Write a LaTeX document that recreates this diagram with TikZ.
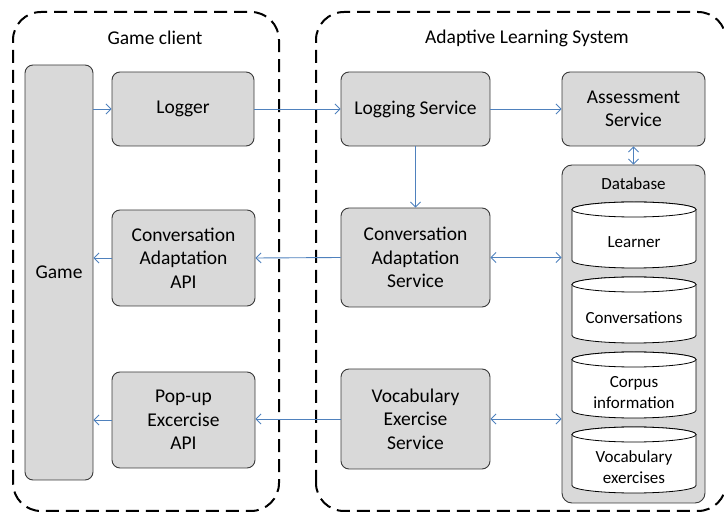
\documentclass[tikz,border=0pt]{standalone}
\usepackage{fontspec}
\setmainfont{Carlito}
\usetikzlibrary{arrows.meta}
\definecolor{boxgray}{HTML}{D9D9D9}
\definecolor{arrowblue}{HTML}{4F81BD}
\definecolor{edgegray}{HTML}{3A3A3A}
\newcommand\dbcyl[3]{%
  \draw[cylline] (572,#1-7.5) -- (572,#1-66+7.5)
     arc[start angle=180,end angle=360,x radius=62pt,y radius=7.5pt]
     -- (696,#1-7.5)
     arc[start angle=0,end angle=180,x radius=62pt,y radius=7.5pt] -- cycle;
  \draw[cylline] (634,#1-7.5) ellipse[x radius=62pt,y radius=7.5pt];
  \node[cyltext] (#2) at (634,#1-40.5) {#3};
}
\tikzset{
  container/.style={draw=black, line width=2pt, dash pattern=on 13pt off 7pt, rounded corners=28pt},
  box/.style={draw=edgegray, fill=boxgray, line width=0.9pt, rounded corners=8pt, align=center,
     inner sep=0pt, font=\fontsize{19.5}{23.5}\selectfont},
  dbbox/.style={draw=edgegray, fill=boxgray, line width=0.9pt, rounded corners=10pt},
  cylline/.style={draw=black, fill=white, line width=0.8pt},
  cyltext/.style={align=center, inner sep=0pt, font=\fontsize{17}{21}\selectfont},
  title/.style={font=\fontsize{19.5}{23.5}\selectfont, inner sep=0pt},
  flow/.style={draw=arrowblue, line width=0.9pt, -{Straight Barb[length=5pt,width=10pt]}},
  flowboth/.style={draw=arrowblue, line width=0.9pt, {Straight Barb[length=5pt,width=10pt]}-{Straight Barb[length=5pt,width=10pt]}}
}
\begin{document}
\begin{tikzpicture}[x=1pt,y=1pt]
\useasboundingbox (0,0) rectangle (724,512);
% containers
\draw[container] (13,1) rectangle (279,500);
\draw[container] (316,1) rectangle (726,500);
\node[title] (gctitle) at (155,474) {Game client};
\node[title] (alstitle) at (527,474) {Adaptive Learning System};
% game client
\node[box, minimum width=68pt, minimum height=415pt] (game) at (59,239.5) {Game};
\node[box, minimum width=142pt, minimum height=74pt] (logger) at (183,403) {Logger};
\node[box, minimum width=143pt, minimum height=96pt] (capi) at (183.5,254) {Conversation\\Adaptation\\API};
\node[box, minimum width=143pt, minimum height=96pt] (papi) at (183.5,92) {Pop-up\\Excercise\\API};
% adaptive learning system
\node[box, minimum width=149pt, minimum height=74pt] (logserv) at (415.5,403) {Logging Service};
\node[box, minimum width=143pt, minimum height=74pt] (assess) at (633.5,403) {Assessment\\Service};
\node[box, minimum width=149pt, minimum height=99pt] (cserv) at (415.5,254.5) {Conversation\\Adaptation\\Service};
\node[box, minimum width=149pt, minimum height=100pt] (vserv) at (415.5,93) {Vocabulary\\Exercise\\Service};
% database
\node[dbbox, minimum width=143pt, minimum height=338pt] (db) at (633.5,178) {};
\node[cyltext] (dblabel) at (633.5,328) {Database};
\dbcyl{310}{learner}{Learner}
\dbcyl{235}{convs}{Conversations}
\dbcyl{160}{corpus}{Corpus\\information}
\dbcyl{85}{vocab}{Vocabulary\\exercises}
% connectors
\draw[flow] (game.east |- logger.west) -- (logger.west);
\draw[flow] (logger.east) -- (logserv.west);
\draw[flow] (logserv.east) -- (assess.west);
\draw[flow] (logserv.south) -- (cserv.north);
\draw[flowboth] (assess.south) -- (assess.south |- db.north);
\draw[flow] (cserv.west) -- (capi.east);
\draw[flow] (capi.west) -- (capi.west -| game.east);
\draw[flowboth] (cserv.east) -- (cserv.east -| db.west);
\draw[flow] (vserv.west) -- (vserv.west -| papi.east);
\draw[flow] (papi.west) -- (papi.west -| game.east);
\draw[flowboth] (vserv.east) -- (vserv.east -| db.west);
\end{tikzpicture}
\end{document}
